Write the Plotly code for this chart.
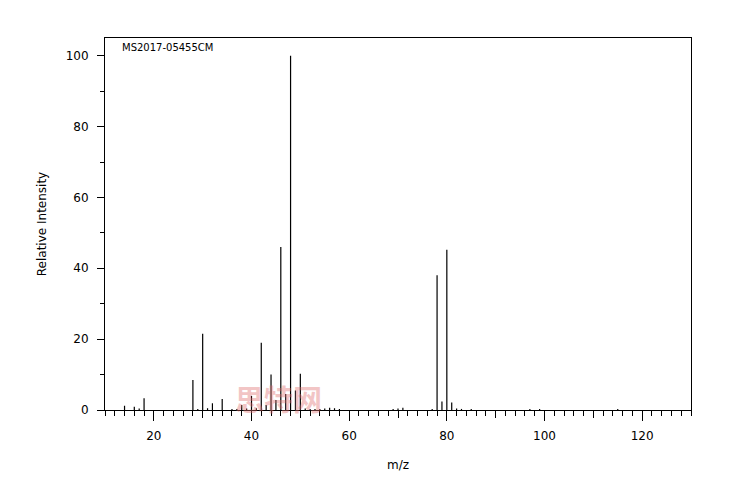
import plotly.graph_objects as go

# m/z values and relative intensities
mz = [14, 16, 17, 18, 28, 29, 30, 31, 32, 34, 36, 37, 38, 39, 40, 41, 42, 43, 44,
      45, 46, 47, 48, 49, 50, 51, 52, 53, 54, 55, 56, 57, 58, 69, 70, 71, 77, 78,
      79, 80, 81, 82, 83, 85, 97, 99, 115]
intensity = [1.2, 0.9, 0.4, 3.3, 8.5, 0.3, 21.5, 0.5, 1.9, 3.1, 0.3, 0.3, 1.4, 0.4,
             4.0, 0.5, 19.0, 1.4, 10.0, 2.8, 46.0, 4.5, 100.0, 5.5, 10.2, 0.4, 0.3,
             0.3, 0.3, 0.4, 0.6, 0.5, 0.3, 0.3, 0.4, 0.6, 0.3, 38.0, 2.4, 45.2, 2.1,
             0.4, 0.3, 0.3, 0.3, 0.3, 0.3]

x_major_ticks = [20, 40, 60, 80, 100, 120]
x_mid_ticks = [30, 50, 70, 90, 110]
y_ticks = [0, 20, 40, 60, 80, 100]

spectrum_id = "MS2017-05455CM"
watermark = "思特网"

# build stick segments from the data
xs, ys = [], []
for m, h in zip(mz, intensity):
    xs += [m, m, None]
    ys += [0, h, None]

FONT = "DejaVu Sans"

fig = go.Figure()
fig.add_trace(go.Scatter(x=xs, y=ys, mode="lines",
                         line=dict(color="black", width=1.2),
                         hoverinfo="skip", showlegend=False))
# invisible trace to keep the overlay axis (medium ticks) alive
fig.add_trace(go.Scatter(x=[x_mid_ticks[0]], y=[0], xaxis="x2", mode="markers",
                         marker=dict(opacity=0), hoverinfo="skip", showlegend=False))

fig.update_layout(
    width=738, height=492,
    margin=dict(l=97, r=55, t=30, b=90),
    paper_bgcolor="white", plot_bgcolor="white",
    font=dict(family=FONT, size=12, color="black"),
    xaxis=dict(
        range=[10, 130], showgrid=False, zeroline=False,
        showline=True, linecolor="black", linewidth=1, mirror=True,
        tickmode="array", tickvals=x_major_ticks,
        ticks="outside", ticklen=10, tickwidth=1, tickcolor="black",
        ticklabelstandoff=5,
        tickfont=dict(family=FONT, size=12, color="black"),
        minor=dict(dtick=2, tick0=10, ticks="outside", ticklen=5,
                   tickwidth=1, tickcolor="black", showgrid=False),
        title=dict(text="m/z", standoff=18,
                   font=dict(family=FONT, size=12, color="black")),
    ),
    xaxis2=dict(
        range=[10, 130], overlaying="x", anchor="y", side="bottom",
        showgrid=False, zeroline=False, showline=False,
        tickmode="array", tickvals=x_mid_ticks, showticklabels=False,
        ticks="outside", ticklen=7, tickwidth=1, tickcolor="black",
    ),
    yaxis=dict(
        range=[0, 105], showgrid=False, zeroline=False,
        showline=True, linecolor="black", linewidth=1, mirror=True,
        tickmode="array", tickvals=y_ticks,
        ticks="outside", ticklen=7, tickwidth=1, tickcolor="black",
        ticklabelstandoff=6,
        tickfont=dict(family=FONT, size=12, color="black"),
        minor=dict(dtick=10, tick0=0, ticks="outside", ticklen=4,
                   tickwidth=1, tickcolor="black", showgrid=False),
        title=dict(text="Relative Intensity", standoff=16,
                   font=dict(family=FONT, size=12, color="black")),
    ),
    annotations=[
        dict(text=spectrum_id, xref="paper", yref="paper",
             x=0.026, y=0.994, xanchor="left", yanchor="top", showarrow=False,
             font=dict(family=FONT, size=10, color="black")),
        dict(text="<b>" + watermark + "</b>", xref="x", yref="paper",
             x=45.6, y=0.032, xanchor="center", yanchor="middle", showarrow=False,
             opacity=0.4,
             font=dict(family="Noto Sans CJK SC", size=29, color="#e07070")),
    ],
)

fig.write_html("out.html")
